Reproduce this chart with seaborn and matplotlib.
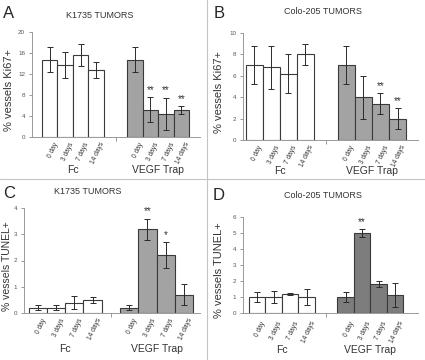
import numpy as np
import pandas as pd
import matplotlib
matplotlib.use("Agg")
import matplotlib.pyplot as plt
import seaborn as sns

# ===== data =====
days = ["0 day", "3 days", "7 days", "14 days"]
groups = ["Fc", "VEGF Trap"]

# A: K1735 Ki67
a_fc = [14.7, 13.7, 15.6, 12.7]
a_fc_err = [2.4, 2.4, 2.1, 1.5]
a_vegf = [14.7, 5.2, 4.4, 5.1]
a_vegf_err = [2.4, 2.4, 3.1, 0.8]
a_stars = ["", "**", "**", "**"]

# B: Colo-205 Ki67
b_fc = [7.0, 6.8, 6.2, 8.0]
b_fc_err = [1.8, 2.0, 1.8, 1.0]
b_vegf = [7.0, 4.0, 3.4, 2.0]
b_vegf_err = [1.8, 2.0, 1.0, 1.0]
b_stars = ["", "", "**", "**"]

# C: K1735 TUNEL
c_fc = [0.2, 0.2, 0.4, 0.5]
c_fc_err = [0.1, 0.1, 0.25, 0.12]
c_vegf = [0.2, 3.2, 2.2, 0.7]
c_vegf_err = [0.1, 0.4, 0.5, 0.4]
c_stars = ["", "**", "*", ""]

# D: Colo-205 TUNEL
d_fc = [1.0, 1.0, 1.2, 1.0]
d_fc_err = [0.3, 0.4, 0.07, 0.5]
d_vegf = [1.0, 5.0, 1.8, 1.1]
d_vegf_err = [0.3, 0.25, 0.2, 0.75]
d_stars = ["", "**", "", ""]

W, H = 425, 360

sns.set_style("white")
plt.rcParams['font.family'] = ['Liberation Sans', 'DejaVu Sans']

fig = plt.figure(figsize=(W / 100, H / 100), dpi=100)


def px_axes(left, top, right, bottom):
    # pixel box -> figure fraction
    return [left / W, 1 - bottom / H, (right - left) / W, (bottom - top) / H]


def panel(box, xlim, width, fc, fc_err, vegf, vegf_err, stars, ymax, ystep,
          ylabel, vegf_color, label_x, group_pad, day_off=-3, label_size=8):
    ax = fig.add_axes(px_axes(*box))
    df = pd.DataFrame({
        "group": [groups[0]] * 4 + [groups[1]] * 4,
        "day": days * 2,
        "value": fc + vegf,
    })
    sns.barplot(data=df, x="group", y="value", hue="day", order=groups,
                hue_order=days, width=width, dodge=True, legend=False,
                errorbar=None, ax=ax, palette=["white"] * 4)
    errs = [fc_err, vegf_err]
    vals = [fc, vegf]
    bar_conts = list(ax.containers)
    for i, cont in enumerate(bar_conts):
        for j, bar in enumerate(cont.patches):
            bar.set_facecolor("white" if j == 0 else vegf_color)
            bar.set_edgecolor("#3a3a3a")
            bar.set_linewidth(0.8)
            cx = bar.get_x() + bar.get_width() / 2
            ax.errorbar(cx, vals[j][i], yerr=errs[j][i], fmt="none",
                        ecolor="#2a2a2a", elinewidth=0.7, capsize=2.2,
                        capthick=0.7, zorder=5)
            ax.annotate(days[i], xy=(cx, 0), xycoords=("data", "axes fraction"),
                        xytext=(2.5, day_off), textcoords="offset points",
                        rotation=65, ha="right", va="top", fontsize=4.8,
                        color="#333333", rotation_mode="anchor")
            if j == 1 and stars[i]:
                ax.annotate(stars[i], xy=(cx, vals[j][i] + errs[j][i]),
                            xytext=(0, 1.5), textcoords="offset points",
                            ha="center", va="bottom", fontsize=7,
                            color="#333333")
    ax.set_xlim(*xlim)
    ax.set_ylim(0, ymax)
    ax.set_yticks(np.arange(0, ymax + 0.001, ystep))
    ax.set_yticklabels([f"{t:g}" for t in np.arange(0, ymax + 0.001, ystep)])
    ax.set_xticks([0, 1])
    ax.set_xticklabels(groups)
    ax.set_xticks([0.5], minor=True)
    ax.tick_params(axis="x", which="major", length=0, pad=group_pad,
                   labelsize=7.5, labelcolor="#333333")
    ax.tick_params(axis="x", which="minor", length=3, width=0.6,
                   color="#888888", direction="out", bottom=True)
    ax.tick_params(axis="y", length=2.5, width=0.6, color="#888888",
                   labelsize=4.5, labelcolor="#555555", pad=2.5, left=True)
    ax.set_xlabel("")
    ax.set_ylabel(ylabel, fontsize=label_size, color="#333333")
    left, top, right, bottom = box
    # label_x is the right edge of the rotated label, in pixels
    ax.yaxis.set_label_coords((label_x - left) / (right - left), 0.45)
    for s in ["top", "right"]:
        ax.spines[s].set_visible(False)
    for s in ["left", "bottom"]:
        ax.spines[s].set_color("#999999")
        ax.spines[s].set_linewidth(0.7)
    return ax


vegf_light = "#a3a3a3"
vegf_dark = "#7d7d7d"

axA = panel((32, 32, 200, 137), (-0.48, 1.49), 0.725, a_fc, a_fc_err, a_vegf,
            a_vegf_err, a_stars, 20, 4, "% vessels Ki67+", vegf_light,
            label_x=14, group_pad=20)
axB = panel((243, 33, 418, 140), (-0.40, 1.50), 0.74, b_fc, b_fc_err, b_vegf,
            b_vegf_err, b_stars, 10, 2, "% vessels Ki67+", vegf_light,
            label_x=224, group_pad=19)
axC = panel((24, 208, 200, 313), (-0.45, 1.475), 0.80, c_fc, c_fc_err, c_vegf,
            c_vegf_err, c_stars, 4, 1, "% vessels TUNEL+", vegf_light,
            label_x=12, group_pad=22, label_size=7.5)
axD = panel((243, 217, 418, 313), (-0.44, 1.54), 0.745, d_fc, d_fc_err, d_vegf,
            d_vegf_err, d_stars, 6, 1, "% vessels TUNEL+", vegf_dark,
            label_x=224, group_pad=23, day_off=-5)

# panel letters and titles
def ftext(x, y, s, **kw):
    fig.text(x / W, 1 - y / H, s, **kw)

ftext(9, 13, "A", fontsize=12, ha="center", va="center")
ftext(219, 14, "B", fontsize=12, ha="center", va="center")
ftext(9, 193, "C", fontsize=12, ha="center", va="center")
ftext(219, 195, "D", fontsize=12, ha="center", va="center")
ftext(100, 15, "K1735 TUMORS", fontsize=6.5, ha="center", va="center", color="#333333")
ftext(323, 12, "Colo-205 TUMORS", fontsize=6.5, ha="center", va="center", color="#333333")
ftext(88, 191, "K1735 TUMORS", fontsize=6.5, ha="center", va="center", color="#333333")
ftext(323, 195, "Colo-205 TUMORS", fontsize=6.5, ha="center", va="center", color="#333333")

# separator lines
fig.add_artist(plt.Line2D([207 / W, 207 / W], [0, 1], transform=fig.transFigure,
                          color="#c4c4c4", lw=0.8))
fig.add_artist(plt.Line2D([0, 1], [1 - 179 / H, 1 - 179 / H], transform=fig.transFigure,
                          color="#c4c4c4", lw=0.8))

fig.savefig("out.png", dpi=100)
